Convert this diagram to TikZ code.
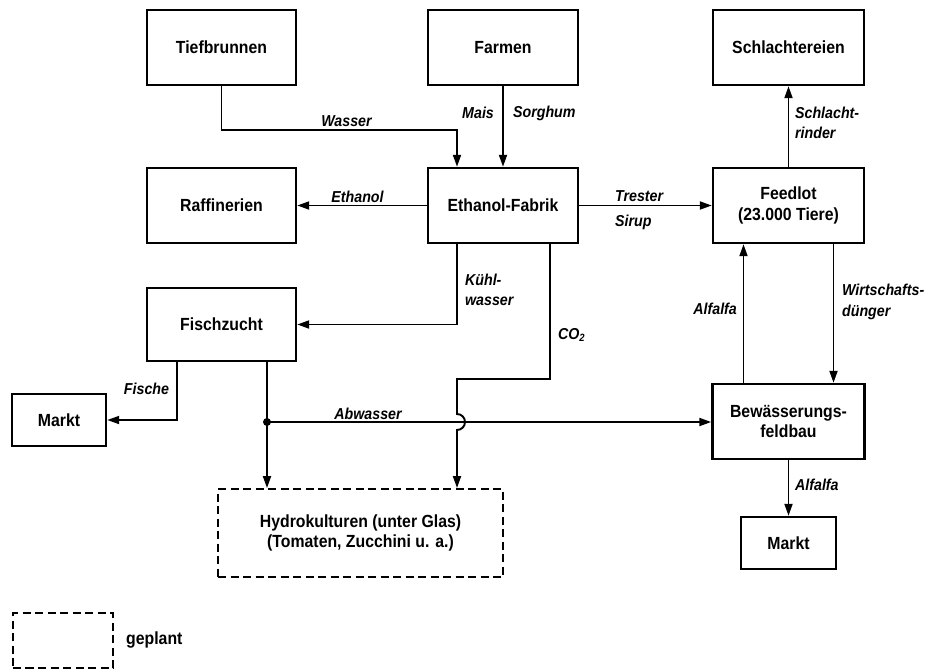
\documentclass[tikz,border=0pt]{standalone}
\usepackage{fontspec}
\setmainfont[FakeStretch=0.9]{Liberation Sans}
\usetikzlibrary{arrows.meta}

\begin{document}
\begin{tikzpicture}[font=\bfseries\fontsize{10}{11.5}\selectfont,>={Triangle[length=0.24cm,width=0.16cm]},x=1cm,y=1cm]
    \tikzset{
        stage/.style={draw,line width=1.4pt,minimum width=3.00cm,minimum height=1.50cm,align=center,inner sep=2pt},
        planned/.style={stage,line width=1.1pt,dash pattern=on 0.16cm off 0.09cm},
        flow/.style={line width=1.1pt},
        flowlabel/.style={font=\bfseries\itshape\fontsize{9}{11.5}\selectfont,inner sep=1pt,align=left}
    }
    \useasboundingbox (0,0) rectangle (18.64,-13.42);

    \node[stage,minimum width=2.98cm] (tief) at (4.43,-0.95) {Tiefbrunnen};
    \node[stage] (farm) at (10.06,-0.95) {Farmen};
    \node[stage,minimum width=3.02cm] (schl) at (15.77,-0.95) {Schlachtereien};

    \node[stage,minimum width=2.98cm] (raff) at (4.43,-4.11) {Raffinerien};
    \node[stage] (eth) at (10.06,-4.11) {Ethanol-Fabrik};
    \node[stage,minimum width=3.02cm] (feed) at (15.77,-4.11)
        {Feedlot\\(23.000 Tiere)};

    \node[stage,minimum width=2.98cm,minimum height=1.46cm] (fisch) at (4.43,-6.49) {Fischzucht};
    \node[stage,minimum width=1.88cm,minimum height=1.04cm] (markt1) at (1.18,-8.40) {Markt};
    \node[stage,minimum width=3.04cm] (bew) at (15.77,-8.43)
        {Bewässerungs-\\feldbau};
    \node[stage,minimum width=1.90cm,minimum height=1.04cm] (markt2) at (15.77,-10.86) {Markt};

    \node[planned,minimum width=5.70cm,minimum height=1.76cm] (hydro) at (7.21,-10.66)
        {Hydrokulturen (unter Glas)\\(Tomaten, Zucchini u. a.)};

    \node[planned,minimum width=2.00cm,minimum height=1.10cm] (legbox) at (1.26,-12.81) {};
    \node[anchor=west] (legtext) at (2.40,-12.80) {geplant};

    % Wasser und Rohstoffe
    \coordinate (wknee) at (9.14,-2.60);
    \draw[flow,->] (tief.south) |- (wknee) -- (wknee |- eth.north);
    \node[flowlabel] (lwasser) at (6.93,-2.42) {Wasser};
    \draw[flow,->] (farm) -- (eth);
    \node[flowlabel,anchor=east] (lmais) at (9.92,-2.26) {Mais};
    \node[flowlabel,anchor=west] (lsorghum) at (10.22,-2.26) {Sorghum};

    \draw[flow,->] (eth.west) -- (raff.east);
    \node[flowlabel] (lethanol) at (7.15,-3.94) {Ethanol};
    \draw[flow,->] (eth) -- (feed);
    \node[flowlabel,anchor=west] (ltrester) at (12.26,-3.92) {Trester};
    \node[flowlabel,anchor=west] (lsirup) at (12.26,-4.44) {Sirup};

    \draw[flow,->] (feed) -- (schl);
    \node[flowlabel,anchor=west] (lschlacht) at (15.86,-2.45) {Schlacht-\\rinder};
    \draw[flow,->] ([xshift=-0.90cm]bew.north) -- ([xshift=-0.90cm]feed.south);
    \node[flowlabel,anchor=east] (lalfalfa) at (14.78,-6.18) {Alfalfa};
    \draw[flow,->] ([xshift=0.90cm]feed.south) -- ([xshift=0.90cm]bew.north);
    \node[flowlabel,anchor=west] (lduenger) at (16.80,-6.04) {Wirtschafts-\\dünger};
    \draw[flow,->] (bew) -- (markt2);
    \node[flowlabel,anchor=west] (lalfalfb) at (15.86,-9.70) {Alfalfa};

    % Kuehlwasser, CO2, Abwasser
    \draw[flow,->] ([xshift=-0.92cm]eth.south) |- (fisch.east);
    \node[flowlabel,anchor=west] (lkuehl) at (9.26,-5.79) {Kühl-\\wasser};
    \coordinate (cknee) at (11.00,-7.58);
    \coordinate (chop) at (9.14,-8.44);
    \draw[flow,->] (cknee |- eth.south) -- (cknee) -| ([yshift=0.16cm]chop)
        arc[start angle=90,end angle=-90,radius=0.16cm] -- (chop |- hydro.north);
    \node[flowlabel,anchor=west] (lco) at (11.12,-6.70) {CO\textsubscript{2}};

    \coordinate (junct) at (5.34,-8.44);
    \draw[flow] ([xshift=0.91cm]fisch.south) -- (junct);
    \draw[flow,->] (junct) -- (junct |- hydro.north);
    \draw[flow,->] (junct) -- (junct -| bew.west);
    \fill (junct) circle (0.08);
    \node[flowlabel] (labwasser) at (7.36,-8.27) {Abwasser};
    \draw[flow,->] ([xshift=-0.89cm]fisch.south) |- (markt1.east);
    \node[flowlabel] (lfische) at (2.93,-7.78) {Fische};
\end{tikzpicture}
\end{document}
